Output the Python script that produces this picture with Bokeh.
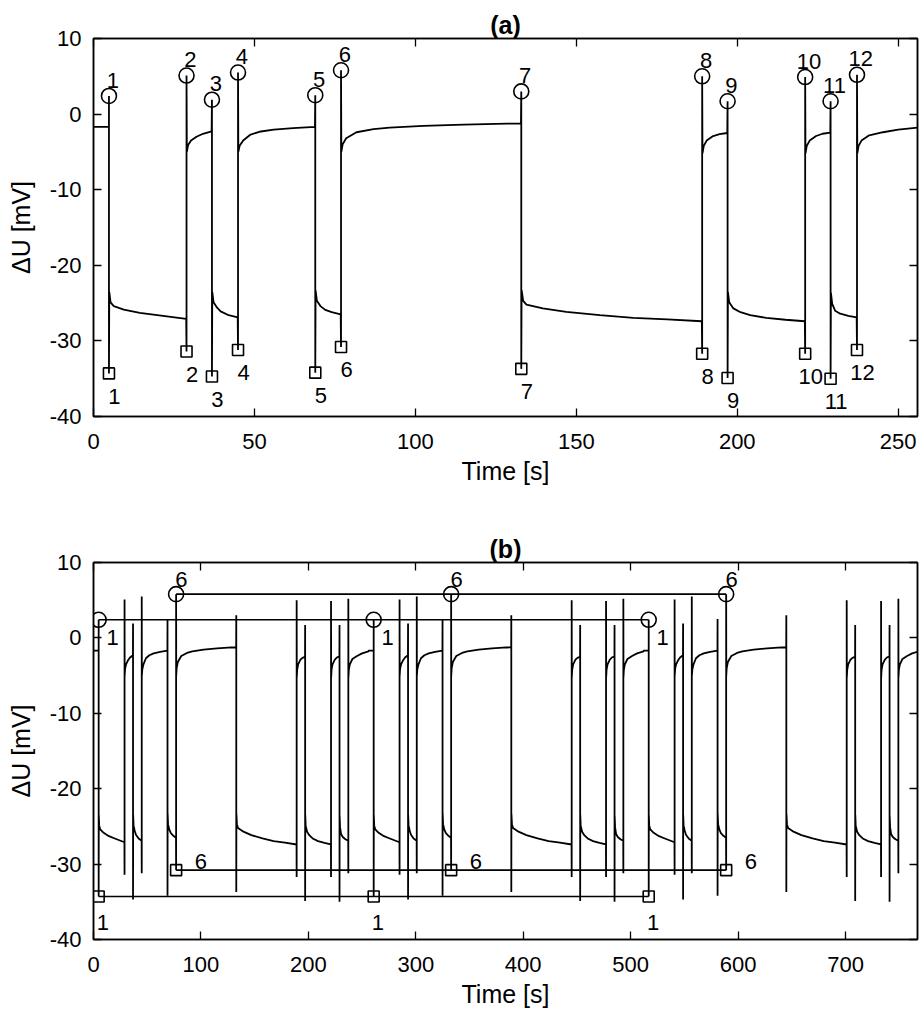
from bokeh.plotting import figure
from bokeh.layouts import column
from bokeh.models import LinearAxis, FixedTicker, CustomJSTickFormatter, Range1d
from bokeh.embed import file_html
from bokeh.resources import INLINE
from bokeh.core.properties import value

FONT = "Liberation Sans"

# ---------------- data ----------------
# one measured cycle (panel a)
event_s = [4.8, 28.9, 36.8, 44.9, 68.9, 76.9, 132.9, 189.1, 197.0, 221.1, 229.0, 237.2]
peak_mv = [2.4, 5.1, 1.9, 5.5, 2.5, 5.8, 3.0, 5.0, 1.7, 4.9, 1.7, 5.2]
trough_mv = [-34.3, -31.4, -34.7, -31.2, -34.2, -30.8, -33.7, -31.7, -34.9, -31.7, -35.0, -31.2]
event_labels = ["1", "2", "3", "4", "5", "6", "7", "8", "9", "10", "11", "12"]
start_mv = -1.7

# relaxation after each pulse (time [s], voltage [mV])
relax_s = [
    [4.9, 5.3, 6.3, 9.4, 14.4, 19.8, 28.8],
    [29.0, 29.4, 30.3, 32.0, 34.0, 36.7],
    [36.9, 37.3, 38.4, 39.5, 42.0, 44.8],
    [45.0, 45.4, 46.5, 48.8, 52.0, 56.0, 62.0, 68.8],
    [69.0, 69.4, 70.5, 72.0, 74.0, 76.8],
    [77.0, 77.4, 78.5, 81.7, 87.0, 92.0, 102.5, 115.0, 128.5, 132.8],
    [133.0, 133.5, 134.5, 139.6, 146.9, 157.3, 167.7, 178.2, 189.0],
    [189.2, 189.6, 190.5, 192.5, 194.5, 196.9],
    [197.1, 197.5, 198.8, 201.0, 204.0, 209.0, 215.0, 221.0],
    [221.2, 221.6, 222.5, 224.5, 226.5, 228.9],
    [229.1, 229.5, 230.4, 232.0, 234.5, 237.1],
    [237.3, 237.7, 238.6, 241.0, 245.3, 250.0, 256.0],
]
relax_mv = [
    [-23.5, -24.9, -25.4, -25.85, -26.3, -26.6, -27.1],
    [-5.0, -4.1, -3.5, -3.0, -2.6, -2.3],
    [-23.5, -24.9, -25.6, -26.1, -26.6, -26.9],
    [-5.0, -4.2, -3.5, -2.7, -2.3, -2.05, -1.85, -1.7],
    [-23.3, -24.7, -25.4, -25.9, -26.2, -26.5],
    [-5.0, -4.0, -3.2, -2.4, -2.0, -1.8, -1.55, -1.4, -1.27, -1.25],
    [-23.3, -24.7, -25.2, -25.7, -26.15, -26.6, -26.95, -27.16, -27.4],
    [-5.2, -4.2, -3.5, -2.9, -2.65, -2.5],
    [-23.5, -24.9, -25.7, -26.2, -26.6, -26.95, -27.2, -27.4],
    [-5.2, -4.2, -3.5, -2.9, -2.6, -2.45],
    [-23.6, -25.1, -26.0, -26.4, -26.7, -26.9],
    [-5.2, -4.2, -3.5, -2.8, -2.4, -2.05, -1.8],
]

# panel b: the cycle repeated three times; pulses 1 and 6 are marked
cycle_s = 256.0
n_cycles = 3
marked = [0, 5]

# ---------------- build trace ----------------
trace_s = [0.0, event_s[0]]
trace_mv = [start_mv, start_mv]
for i, t in enumerate(event_s):
    if i % 2 == 0:
        order = [peak_mv[i], trough_mv[i]]
    else:
        order = [trough_mv[i], peak_mv[i]]
    trace_s += [t, t]
    trace_mv += order
    trace_s += relax_s[i]
    trace_mv += relax_mv[i]

trace_b_s = []
trace_b_mv = []
for k in range(n_cycles):
    trace_b_s += [s + k * cycle_s for s in trace_s]
    trace_b_mv += trace_mv

y_ticks = [-40, -30, -20, -10, 0, 10]


def style(p, x_ticks):
    p.title.align = "center"
    p.title.text_font = FONT
    p.title.text_font_size = "25px"
    p.title.text_font_style = "bold"
    p.title.text_color = "black"
    p.title.standoff = 0
    p.xgrid.visible = False
    p.ygrid.visible = False
    p.outline_line_color = "black"
    p.outline_line_width = 1.5
    p.outline_line_alpha = 1.0
    bottom = p.below[0]
    left = p.left[0]
    plain = CustomJSTickFormatter(code="return tick.toString()")
    blank = CustomJSTickFormatter(code="return ''")
    top = LinearAxis(ticker=FixedTicker(ticks=x_ticks), formatter=blank)
    right = LinearAxis(ticker=FixedTicker(ticks=y_ticks), formatter=blank)
    p.add_layout(top, "above")
    p.add_layout(right, "right")
    for ax in [bottom, left, top, right]:
        ax.major_tick_in = 8
        ax.major_tick_out = 0
        ax.minor_tick_line_color = None
        ax.major_tick_line_width = 1.3
        ax.major_tick_line_color = "black"
        ax.axis_line_width = 1.5
        ax.axis_line_color = "black"
        ax.major_label_text_font = FONT
        ax.major_label_text_font_size = "22px"
        ax.major_label_text_color = "black"
        ax.axis_label_text_font = FONT
        ax.axis_label_text_font_size = "25px"
        ax.axis_label_text_font_style = "normal"
        ax.axis_label_text_color = "black"
    for ax in [top, right]:
        ax.major_label_standoff = 0
        ax.major_label_text_font_size = "1px"
    bottom.ticker = FixedTicker(ticks=x_ticks)
    left.ticker = FixedTicker(ticks=y_ticks)
    bottom.formatter = plain
    left.formatter = plain
    bottom.major_label_standoff = 17
    left.major_label_standoff = 12
    bottom.axis_label = "Time [s]"
    left.axis_label = "ΔU [mV]"
    bottom.axis_label_standoff = 5
    left.axis_label_standoff = 12


def txt(p, xs, ys, labels):
    p.text(x=xs, y=ys, text=labels, text_font=value(FONT), text_font_size="22px",
           text_align="center", text_baseline="middle", text_color="black")


# ---------------- panel (a) ----------------
pa = figure(frame_width=824, frame_height=378, x_range=Range1d(0, 256), y_range=Range1d(-40, 10),
            output_backend="svg", toolbar_location=None, title="(a)",
            min_border_left=93, min_border_right=3, min_border_top=38, min_border_bottom=108)
style(pa, [0, 50, 100, 150, 200, 250])
pa.line(trace_s, trace_mv, line_color="black", line_width=1.8)
pa.scatter(event_s, peak_mv, marker="circle", size=15, fill_color=None, line_color="black", line_width=1.6)
pa.scatter(event_s, trough_mv, marker="square", size=11, fill_color=None, line_color="black", line_width=1.6)
txt(pa, [t + 1.2 for t in event_s], [v + 2.1 for v in peak_mv], event_labels)
txt(pa, [t + 1.7 for t in event_s], [v - 3.0 for v in trough_mv], event_labels)

# ---------------- panel (b) ----------------
pb = figure(frame_width=824, frame_height=377, x_range=Range1d(0, 767), y_range=Range1d(-40, 10),
            output_backend="svg", toolbar_location=None, title="(b)",
            min_border_left=93, min_border_right=3, min_border_top=38, min_border_bottom=74)
style(pb, [0, 100, 200, 300, 400, 500, 600, 700])
pb.line(trace_b_s, trace_b_mv, line_color="black", line_width=1.8)
for j, i in enumerate(marked):
    ms = [event_s[i] + k * cycle_s for k in range(n_cycles)]
    pk = [peak_mv[i]] * n_cycles
    tr = [trough_mv[i]] * n_cycles
    lab = [event_labels[i]] * n_cycles
    pb.line(ms, pk, line_color="black", line_width=1.6)
    pb.line(ms, tr, line_color="black", line_width=1.6)
    pb.scatter(ms, pk, marker="circle", size=15, fill_color=None, line_color="black", line_width=1.6)
    pb.scatter(ms, tr, marker="square", size=11, fill_color=None, line_color="black", line_width=1.6)
    if j == 0:
        txt(pb, [m + 13 for m in ms], [v - 2.4 for v in pk], lab)
        txt(pb, [m + 4 for m in ms], [v - 3.4 for v in tr], lab)
    else:
        txt(pb, [m + 5 for m in ms], [v + 2.0 for v in pk], lab)
        txt(pb, [m + 23 for m in ms], [v + 1.2 for v in tr], lab)

layout = column(pa, pb, spacing=0)
open("out.html", "w").write(file_html(layout, INLINE))
